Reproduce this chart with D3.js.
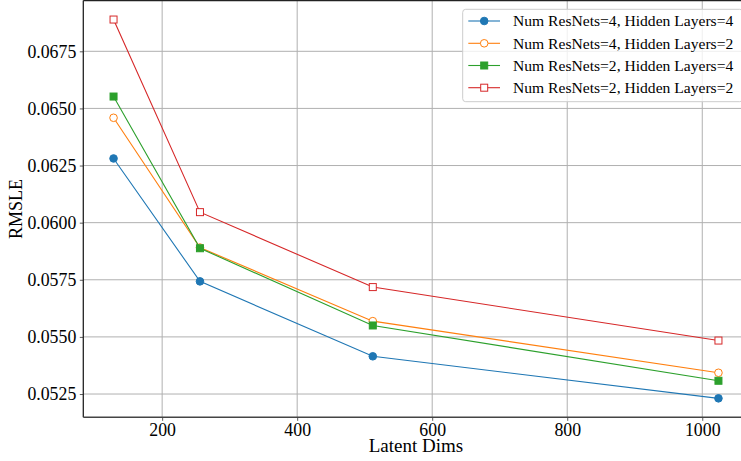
<!DOCTYPE html>
<html>
<head>
<meta charset="utf-8">
<script src="https://cdn.jsdelivr.net/npm/d3@7"></script>
<style>
  html, body { margin: 0; padding: 0; background: #fff; }
  svg { display: block; }
  text { font-family: "Liberation Serif", "Times New Roman", serif; fill: #000; }
</style>
</head>
<body>
<svg id="chart" width="741" height="461"></svg>
<script>
const latentDims = [128, 256, 512, 1024];
const seriesNames = [
  "Num ResNets=4, Hidden Layers=4",
  "Num ResNets=4, Hidden Layers=2",
  "Num ResNets=2, Hidden Layers=4",
  "Num ResNets=2, Hidden Layers=2"
];
const res4hid4 = [0.06281, 0.05743, 0.05415, 0.05231];
const res4hid2 = [0.06459, 0.05891, 0.05569, 0.05343];
const res2hid4 = [0.06552, 0.05888, 0.05550, 0.05308];
const res2hid2 = [0.06889, 0.06046, 0.05718, 0.05484];
const xTicks = [200, 400, 600, 800, 1000];
const yTicks = [0.0525, 0.0550, 0.0575, 0.0600, 0.0625, 0.0650, 0.0675];

const FONT = '"Liberation Serif", "Times New Roman", serif';
const colors = ["#1f77b4", "#ff7f0e", "#2ca02c", "#d62728"];
const markers = [
  { shape: "circle", filled: true },
  { shape: "circle", filled: false },
  { shape: "square", filled: true },
  { shape: "square", filled: false }
];
const allValues = [res4hid4, res4hid2, res2hid4, res2hid2];
const series = seriesNames.map((name, i) => ({
  name, color: colors[i], marker: markers[i],
  values: latentDims.map((d, j) => ({ x: d, y: allValues[i][j] }))
}));

const svg = d3.select("#chart");
const L = 83.3, R = 748.7, T = 0.6, B = 417.3;

// matplotlib-style 5% margins
const xMin = d3.min(latentDims), xMax = d3.max(latentDims);
const xPad = (xMax - xMin) * 0.05;
const flat = allValues.flat();
const yMin = d3.min(flat), yMax = d3.max(flat);
const yPad = (yMax - yMin) * 0.05;

const x = d3.scaleLinear().domain([xMin - xPad, xMax + xPad]).range([L, R]);
const y = d3.scaleLinear().domain([yMin - yPad, yMax + yPad]).range([B, T]);

// grid
const grid = svg.append("g");
grid.selectAll("line.gx").data(xTicks).enter().append("line")
  .attr("x1", d => x(d)).attr("x2", d => x(d)).attr("y1", T).attr("y2", B)
  .attr("stroke", "#b0b0b0").attr("stroke-width", 1);
grid.selectAll("line.gy").data(yTicks).enter().append("line")
  .attr("x1", L).attr("x2", R).attr("y1", d => y(d)).attr("y2", d => y(d))
  .attr("stroke", "#b0b0b0").attr("stroke-width", 1);

// axes
const xAxis = d3.axisBottom(x).tickValues(xTicks).tickSize(3.5).tickPadding(2.3).tickFormat(d3.format("d"));
const yAxis = d3.axisLeft(y).tickValues(yTicks).tickSize(3.5).tickPadding(3.5).tickFormat(d => d.toFixed(4));

const gx = svg.append("g").attr("transform", `translate(0,${B})`).call(xAxis);
const gy = svg.append("g").attr("transform", `translate(${L},0)`).call(yAxis);
[gx, gy].forEach(g => {
  g.attr("font-family", null).attr("font-size", null);
  g.select(".domain").remove();
  g.selectAll(".tick line").attr("stroke", "#333").attr("stroke-width", 0.8);
  g.selectAll(".tick text").style("font-family", FONT).style("font-size", "17.8px").attr("fill", "#000");
});

// lines + markers
const line = d3.line().x(d => x(d.x)).y(d => y(d.y));
const plot = svg.append("g");
series.forEach(s => {
  const g = plot.append("g");
  g.append("path").datum(s.values).attr("d", line)
    .attr("fill", "none").attr("stroke", s.color).attr("stroke-width", 1.1);
  const fill = s.marker.filled ? s.color : "#fff";
  if (s.marker.shape === "circle") {
    g.selectAll("circle").data(s.values).enter().append("circle")
      .attr("cx", d => x(d.x)).attr("cy", d => y(d.y)).attr("r", 3.8)
      .attr("fill", fill).attr("stroke", s.color).attr("stroke-width", 1);
  } else {
    const sz = 7;
    g.selectAll("rect").data(s.values).enter().append("rect")
      .attr("x", d => x(d.x) - sz / 2).attr("y", d => y(d.y) - sz / 2)
      .attr("width", sz).attr("height", sz)
      .attr("fill", fill).attr("stroke", s.color).attr("stroke-width", 1);
  }
});

// spines
svg.append("line").attr("x1", L).attr("x2", L).attr("y1", T).attr("y2", B).attr("stroke", "#222").attr("stroke-width", 1.3);
svg.append("line").attr("x1", L).attr("x2", R).attr("y1", B).attr("y2", B).attr("stroke", "#444").attr("stroke-width", 1.6);
svg.append("line").attr("x1", L).attr("x2", R).attr("y1", T).attr("y2", T).attr("stroke", "#222").attr("stroke-width", 1.3);
svg.append("line").attr("x1", R).attr("x2", R).attr("y1", T).attr("y2", B).attr("stroke", "#222").attr("stroke-width", 1.3);

// axis labels
svg.append("text").attr("x", (L + R) / 2).attr("y", 452).attr("text-anchor", "middle")
  .style("font-family", FONT).style("font-size", "19px").text("Latent Dims");
svg.append("text").attr("transform", `translate(22,${(T + B) / 2}) rotate(-90)`)
  .attr("text-anchor", "middle").style("font-family", FONT).style("font-size", "18px").text("RMSLE");

// legend
const lg = svg.append("g");
const lgX = 462.7, lgY = 9.3, lgW = 280, lgH = 92.4;
lg.append("rect").attr("x", lgX).attr("y", lgY).attr("width", lgW).attr("height", lgH)
  .attr("rx", 3).attr("fill", "#fff").attr("fill-opacity", 0.8)
  .attr("stroke", "#cccccc").attr("stroke-width", 1);
const rowY = [21, 43.3, 65.5, 87.7];
series.forEach((s, i) => {
  const ry = rowY[i];
  lg.append("line").attr("x1", 468.3).attr("x2", 500).attr("y1", ry).attr("y2", ry)
    .attr("stroke", s.color).attr("stroke-width", 1.1);
  const fill = s.marker.filled ? s.color : "#fff";
  if (s.marker.shape === "circle") {
    lg.append("circle").attr("cx", 484.2).attr("cy", ry).attr("r", 3.8)
      .attr("fill", fill).attr("stroke", s.color).attr("stroke-width", 1);
  } else {
    lg.append("rect").attr("x", 484.2 - 3.5).attr("y", ry - 3.5).attr("width", 7).attr("height", 7)
      .attr("fill", fill).attr("stroke", s.color).attr("stroke-width", 1);
  }
  lg.append("text").attr("x", 513).attr("y", ry).attr("dy", "0.35em")
    .style("font-family", FONT).style("font-size", "15.6px").text(s.name);
});
</script>
</body>
</html>
